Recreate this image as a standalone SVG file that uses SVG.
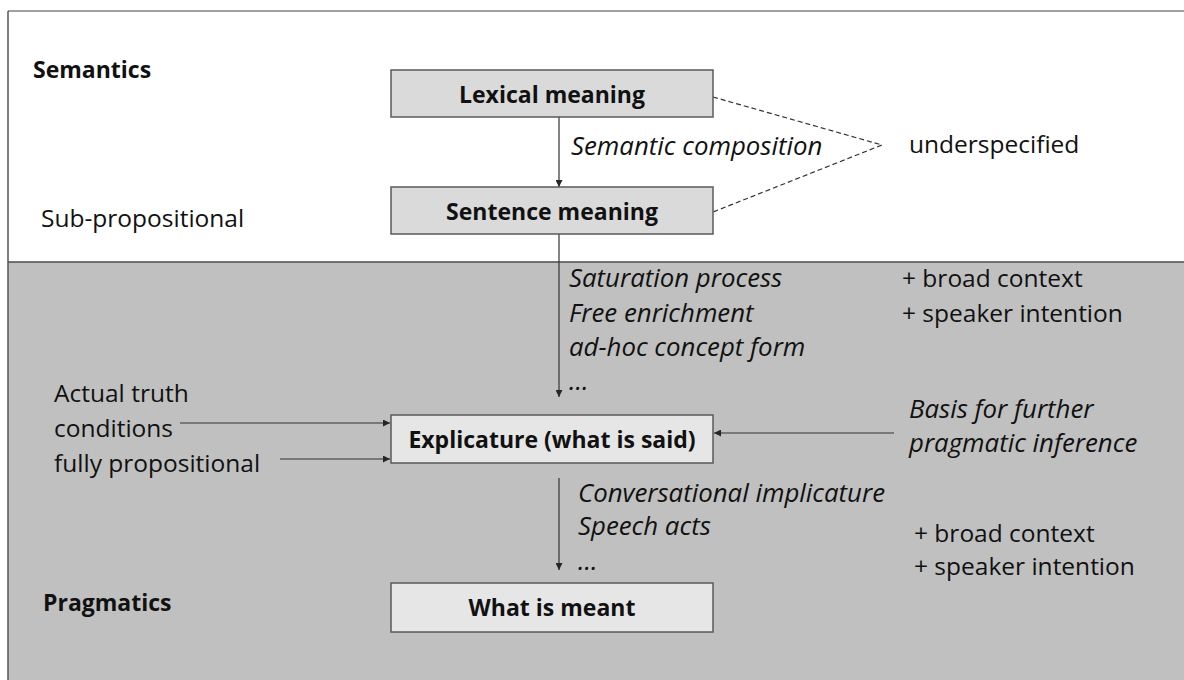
<svg xmlns="http://www.w3.org/2000/svg" width="1184" height="680" viewBox="0 0 1184 680">
<defs>
<marker id="ah" viewBox="0 0 10 10" refX="10" refY="5" markerWidth="7" markerHeight="7" markerUnits="userSpaceOnUse" orient="auto">
<path d="M0,0 L10,5 L0,10 z" fill="#262626"/>
</marker>
<style>
text{font-family:"Open Sans","Liberation Sans",sans-serif;font-size:24.5px;fill:#111}
.b{font-weight:bold;font-size:23px}
.i{font-style:italic;font-size:25.8px}
.m{text-anchor:middle}
.box{stroke:#5a5a5a;stroke-width:1.5}
.c{stroke:#333;stroke-width:1.2;fill:none}
.d{stroke:#333;stroke-width:1.2;fill:none;stroke-dasharray:5,3}
</style>
</defs>
<rect x="0" y="0" width="1184" height="680" fill="#fff"/>
<g id="regions">
<rect x="8" y="262" width="1180" height="420" fill="#c0c0c0"/>
<line x1="8" y1="262" x2="1184" y2="262" stroke="#4d4d4d" stroke-width="1.3"/>
<line x1="8" y1="11" x2="1184" y2="11" stroke="#808080" stroke-width="1.5"/>
<line x1="8" y1="11" x2="8" y2="680" stroke="#555" stroke-width="1.5"/>
</g>
<g id="labels">
<text x="33" y="78" class="b">Semantics</text>
<text x="41" y="227">Sub-propositional</text>
<text x="43" y="611" class="b">Pragmatics</text>
<text x="909" y="153">underspecified</text>
<text x="571" y="155" class="i">Semantic composition</text>
<text x="569" y="287" class="i">Saturation process</text>
<text x="569" y="322" class="i">Free enrichment</text>
<text x="569" y="356" class="i">ad-hoc concept form</text>
<text x="569" y="390" class="i">…</text>
<text x="902" y="287">+ broad context</text>
<text x="902" y="322">+ speaker intention</text>
<text x="54" y="402">Actual truth</text>
<text x="54" y="437">conditions</text>
<text x="54" y="472">fully propositional</text>
<text x="909" y="418" class="i">Basis for further</text>
<text x="909" y="452" class="i">pragmatic inference</text>
<text x="578" y="502" class="i">Conversational implicature</text>
<text x="578" y="535" class="i">Speech acts</text>
<text x="578" y="570" class="i">…</text>
<text x="914" y="542">+ broad context</text>
<text x="914" y="575">+ speaker intention</text>
</g>
<g id="connectors">
<line class="c" x1="559" y1="117" x2="559" y2="187" marker-end="url(#ah)"/>
<line class="c" x1="559" y1="234" x2="559" y2="397" marker-end="url(#ah)"/>
<line class="c" x1="559" y1="478" x2="559" y2="570" marker-end="url(#ah)"/>
<line class="c" x1="180" y1="423" x2="390" y2="423" marker-end="url(#ah)"/>
<line class="c" x1="280" y1="459" x2="390" y2="459" marker-end="url(#ah)"/>
<line class="c" x1="894" y1="433" x2="714" y2="433" marker-end="url(#ah)"/>
<polyline class="d" points="713,97 882,145 713,212"/>
</g>
<g id="lexical">
<rect class="box" x="391" y="70" width="322" height="47" fill="#dadada"/>
<text x="552" y="103" class="b m">Lexical meaning</text>
</g>
<g id="sentence">
<rect class="box" x="391" y="187" width="322" height="47" fill="#dadada"/>
<text x="552" y="220" class="b m">Sentence meaning</text>
</g>
<g id="explicature">
<rect class="box" x="391" y="415" width="322" height="48" fill="#e6e6e6"/>
<text x="552" y="448" class="b m">Explicature (what is said)</text>
</g>
<g id="meant">
<rect class="box" x="391" y="583" width="322" height="49" fill="#e6e6e6"/>
<text x="552" y="616" class="b m">What is meant</text>
</g>
</svg>
